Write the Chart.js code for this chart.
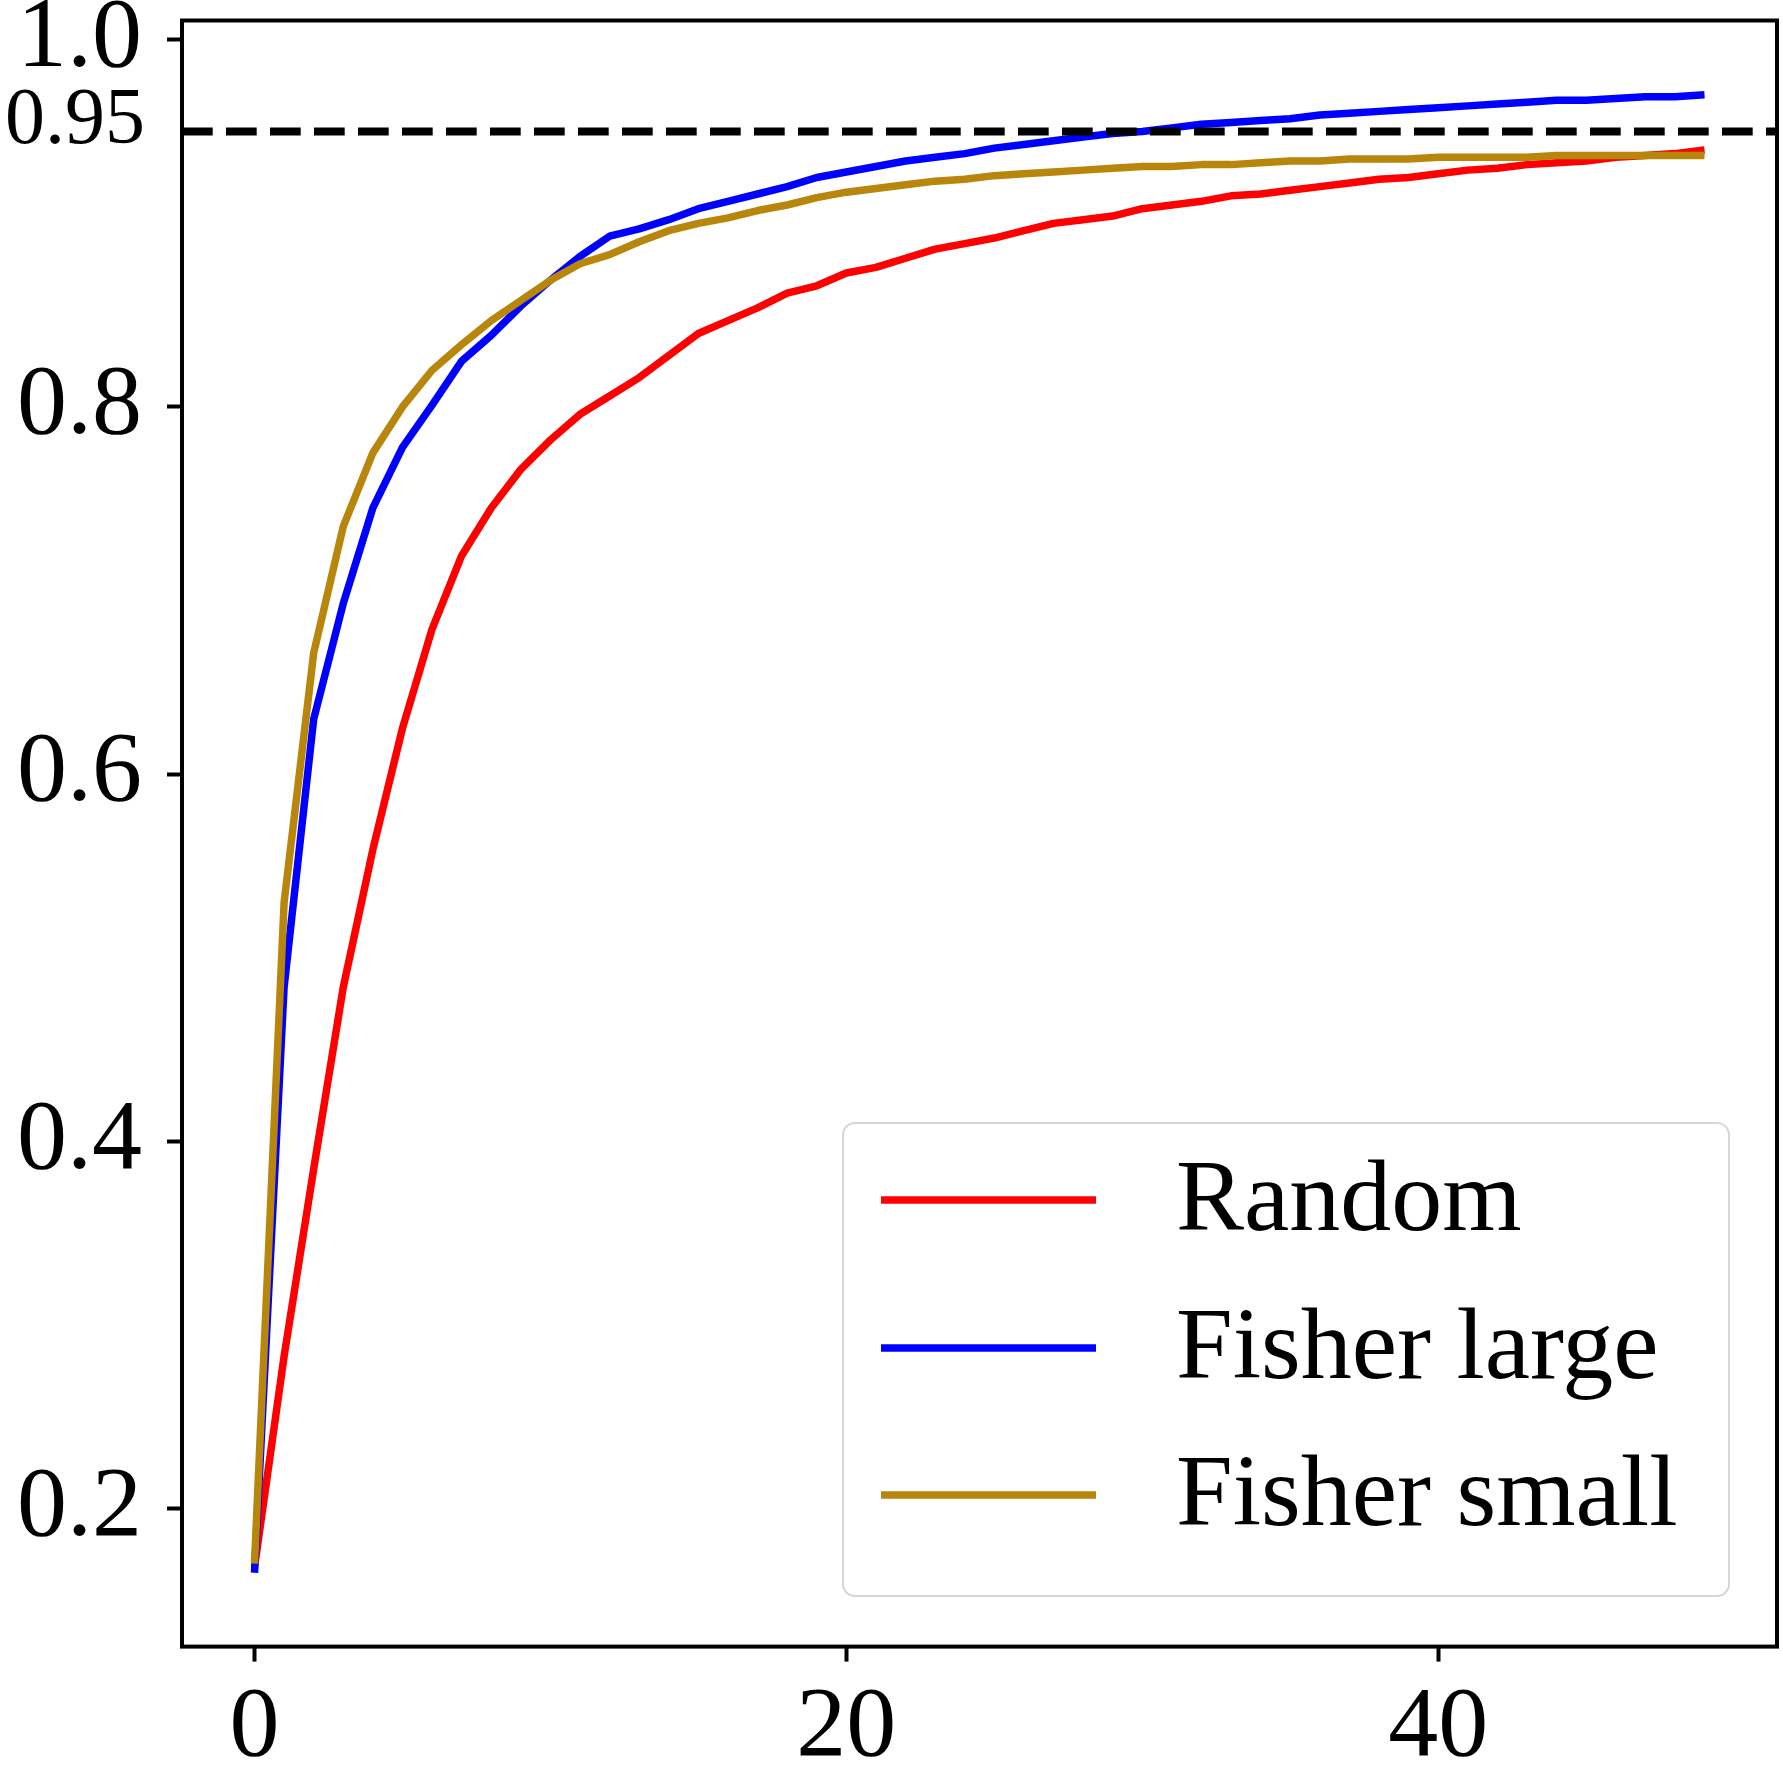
<!DOCTYPE html>
<html>
<head>
<meta charset="utf-8">
<script src="https://cdn.jsdelivr.net/npm/chart.js@4"></script>
<style>
  html, body { margin: 0; padding: 0; background: #fff; }
  canvas { display: block; }
</style>
</head>
<body>
<canvas id="acc-chart" width="1783" height="1783"></canvas>
<script>
// steps on the x axis
const steps = Array.from({ length: 50 }, (_, i) => i);

const randomVals = [
    0.168, 0.283, 0.385, 0.484, 0.559, 0.625, 0.679, 0.719, 0.745, 0.766,
    0.782, 0.796, 0.806, 0.816, 0.828, 0.840, 0.847, 0.854, 0.862, 0.866,
    0.873, 0.876, 0.881, 0.886, 0.889, 0.892, 0.896, 0.900, 0.902, 0.904,
    0.908, 0.910, 0.912, 0.915, 0.916, 0.918, 0.920, 0.922, 0.924, 0.925,
    0.927, 0.929, 0.930, 0.932, 0.933, 0.934, 0.936, 0.937, 0.938, 0.940
];
const fisherLargeVals = [
    0.165, 0.484, 0.630, 0.693, 0.745, 0.778, 0.801, 0.825, 0.839, 0.855,
    0.869, 0.882, 0.893, 0.897, 0.902, 0.908, 0.912, 0.916, 0.920, 0.925,
    0.928, 0.931, 0.934, 0.936, 0.938, 0.941, 0.943, 0.945, 0.947, 0.949,
    0.950, 0.952, 0.954, 0.955, 0.956, 0.957, 0.959, 0.960, 0.961, 0.962,
    0.963, 0.964, 0.965, 0.966, 0.967, 0.967, 0.968, 0.969, 0.969, 0.970
];
const fisherSmallVals = [
    0.170, 0.530, 0.666, 0.735, 0.775, 0.800, 0.820, 0.834, 0.847, 0.858,
    0.869, 0.878, 0.883, 0.890, 0.896, 0.900, 0.903, 0.907, 0.910, 0.914,
    0.917, 0.919, 0.921, 0.923, 0.924, 0.926, 0.927, 0.928, 0.929, 0.930,
    0.931, 0.931, 0.932, 0.932, 0.933, 0.934, 0.934, 0.935, 0.935, 0.935,
    0.936, 0.936, 0.936, 0.936, 0.937, 0.937, 0.937, 0.937, 0.937, 0.937
];
const threshold = 0.95;
const thresholdLabel = "0.95";

const seriesNames = ["Random", "Fisher large", "Fisher small"];
const seriesColors = ["#ff0000", "#0000ff", "#b8860b"];

const xTicks = [0, 20, 40];
const yTicks = [0.2, 0.4, 0.6, 0.8, 0.95, 1.0];
const yTickLabels = ["0.2", "0.4", "0.6", "0.8", "", "1.0"];

const xMin = -2.45, xMax = 51.45;
const yMin = 0.1248, yMax = 1.0105;

const FONT = "'Liberation Serif', 'DejaVu Serif', serif";
const LW = 7.5;

function toPoints(vals) {
    return vals.map((v, i) => ({ x: steps[i], y: v }));
}

// white background + frame + legend + the 0.95 label, drawn by hand
const framePlugin = {
    id: "framePlugin",
    beforeDraw(chart) {
        const c = chart.ctx;
        c.save();
        c.fillStyle = "#fff";
        c.fillRect(0, 0, chart.width, chart.height);
        c.restore();
    },
    afterDraw(chart) {
        const c = chart.ctx;
        const a = chart.chartArea;
        c.save();
        c.strokeStyle = "#000";
        c.lineWidth = 4;
        c.strokeRect(a.left, a.top, a.right - a.left, a.bottom - a.top);

        // label of the dashed line (sits a bit higher than a normal tick label)
        const ty = chart.scales.y.getPixelForValue(threshold);
        c.font = "80px " + FONT;
        c.fillStyle = "#000";
        c.textAlign = "right";
        c.textBaseline = "middle";
        c.fillText(thresholdLabel, 145, ty - 10);

        // legend box
        const bx = 843, by = 1123, bw = 886, bh = 473, r = 12;
        c.beginPath();
        c.roundRect(bx, by, bw, bh, r);
        c.fillStyle = "rgba(255,255,255,0.8)";
        c.fill();
        c.lineWidth = 2;
        c.strokeStyle = "#d6d6d6";
        c.stroke();

        const rowY = [1200, 1348, 1495];
        c.font = "102px " + FONT;
        c.textBaseline = "middle";
        c.textAlign = "left";
        seriesNames.forEach((name, i) => {
            c.beginPath();
            c.moveTo(881, rowY[i]);
            c.lineTo(1096, rowY[i]);
            c.strokeStyle = seriesColors[i];
            c.lineWidth = LW;
            c.lineCap = "butt";
            c.stroke();
            c.fillStyle = "#000";
            c.fillText(name, 1176, rowY[i] + 3);
        });
        c.restore();
    }
};

const ctx = document.getElementById("acc-chart").getContext("2d");
new Chart(ctx, {
    type: "line",
    data: {
        datasets: [
            {
                label: thresholdLabel,
                data: [{ x: xMin, y: threshold }, { x: xMax, y: threshold }],
                borderColor: "#000",
                borderWidth: 8,
                borderDash: [30.7, 13.3],
                pointRadius: 0
            },
            {
                label: seriesNames[2],
                data: toPoints(fisherSmallVals),
                borderColor: seriesColors[2],
                borderWidth: LW,
                pointRadius: 0,
                borderJoinStyle: "round"
            },
            {
                label: seriesNames[1],
                data: toPoints(fisherLargeVals),
                borderColor: seriesColors[1],
                borderWidth: LW,
                pointRadius: 0,
                borderJoinStyle: "round"
            },
            {
                label: seriesNames[0],
                data: toPoints(randomVals),
                borderColor: seriesColors[0],
                borderWidth: LW,
                pointRadius: 0,
                borderJoinStyle: "round"
            }
        ]
    },
    options: {
        responsive: false,
        animation: false,
        devicePixelRatio: 1,
        layout: { padding: { top: 20.5, right: 6, left: 0, bottom: 0 } },
        plugins: {
            legend: { display: false },
            tooltip: { enabled: false }
        },
        elements: { line: { tension: 0 } },
        scales: {
            x: {
                type: "linear",
                min: xMin,
                max: xMax,
                afterBuildTicks: s => { s.ticks = xTicks.map(v => ({ value: v })); },
                afterFit: s => {
                    s.height = 136.4;
                    s.paddingLeft = 0; s.paddingRight = 0;
                },
                border: { display: false },
                grid: {
                    drawOnChartArea: false,
                    drawTicks: true,
                    tickLength: 15,
                    tickWidth: 4,
                    tickColor: "#000"
                },
                ticks: {
                    color: "#000",
                    padding: 7,
                    maxRotation: 0,
                    font: { family: FONT, size: 100 },
                    callback: v => String(v)
                }
            },
            y: {
                type: "linear",
                min: yMin,
                max: yMax,
                afterBuildTicks: s => { s.ticks = yTicks.map(v => ({ value: v })); },
                afterFit: s => {
                    s.width = 182;
                    s.paddingTop = 0; s.paddingBottom = 0;
                },
                border: { display: false },
                grid: {
                    drawOnChartArea: false,
                    drawTicks: true,
                    tickLength: 15,
                    tickWidth: 4,
                    tickColor: c => (c.tick && c.tick.value === threshold ? "rgba(0,0,0,0)" : "#000")
                },
                ticks: {
                    color: "#000",
                    padding: 25,
                    font: { family: FONT, size: 100 },
                    callback: v => {
                        const k = yTicks.indexOf(v);
                        return k >= 0 ? yTickLabels[k] : "";
                    }
                }
            }
        }
    },
    plugins: [framePlugin]
});
</script>
</body>
</html>
